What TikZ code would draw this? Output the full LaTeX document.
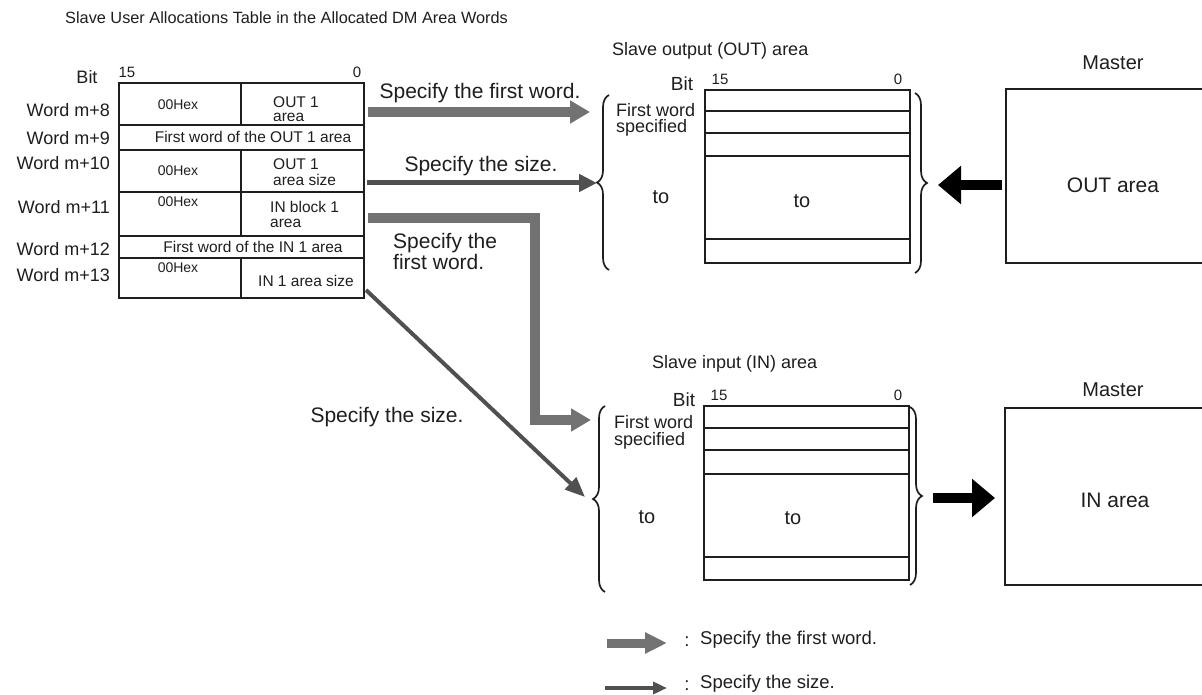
\documentclass[tikz,border=0pt]{standalone}
\usepackage{fontspec}
\setmainfont{Liberation Sans}
\usetikzlibrary{arrows.meta,decorations.pathreplacing,calc}
\newcommand\fsz[1]{\fontsize{#1}{#1}\selectfont}
\definecolor{ink}{HTML}{1E1E1E}
\definecolor{stip}{HTML}{727272}
\definecolor{thin}{HTML}{505050}
\begin{document}
\begin{tikzpicture}[x=1pt,y=-1pt,
  every node/.style={inner sep=0pt, text=ink},
  cell/.style={draw=ink, line width=2pt, anchor=north west, minimum width=245},
  area/.style={draw=ink, line width=2.2pt, anchor=north west, minimum width=205},
  tline/.style={draw=ink, line width=2pt},
  aline/.style={draw=ink, line width=2.2pt},
  lbl/.style={font=\fsz{18}},
  ctxt/.style={font=\fsz{15.5}},
  hex/.style={font=\fsz{14}},
  bitno/.style={font=\fsz{15}},
  big/.style={font=\fsz{21}},
  brc/.style={draw=ink, line width=1.7pt, decorate, decoration={brace, amplitude=12pt, aspect=0.5}},
  fwarrow/.style={draw=stip, line width=10pt, line join=miter, -{Triangle[length=20pt,width=22pt]}},
  szarrow/.style={draw=thin, line width=5pt, -{Triangle[length=18pt,width=17pt]}},
  blkarrow/.style={draw=black, line width=10pt, -{Triangle[length=23pt,width=37pt]}}
]
\useasboundingbox (0,0) rectangle (1202,695);

% title
\node[anchor=west, font=\fsz{16.3}] (title) at (65,18) {Slave User Allocations Table in the Allocated DM Area Words};

% ---------------- allocation table ----------------
\node[cell, minimum height=42] (r8)  at (118,82)  {};
\node[cell, minimum height=25] (r9)  at (118,124) {};
\node[cell, minimum height=42] (r10) at (118,149) {};
\node[cell, minimum height=44] (r11) at (118,191) {};
\node[cell, minimum height=22] (r12) at (118,235) {};
\node[cell, minimum height=40] (r13) at (118,257) {};
\draw[tline] (241,82) -- (241,124);
\draw[tline] (241,149) -- (241,235);
\draw[tline] (241,257) -- (241,297);

\node[lbl] (bitl) at (87,77) {Bit};
\node[bitno] (b15l) at (127,72) {15};
\node[bitno] (b0l) at (357,72) {0};

\node[lbl, anchor=east] (w8)  at (110,110) {Word m+8};
\node[lbl, anchor=east] (w9)  at (110,138) {Word m+9};
\node[lbl, anchor=east] (w10) at (110,163) {Word m+10};
\node[lbl, anchor=east] (w11) at (110,207) {Word m+11};
\node[lbl, anchor=east] (w12) at (110,249) {Word m+12};
\node[lbl, anchor=east] (w13) at (110,275) {Word m+13};

\node[hex] (h8)  at (178,105) {00Hex};
\node[hex] (h10) at (178,171) {00Hex};
\node[hex] (h11) at (178,202) {00Hex};
\node[hex] (h13) at (178,268) {00Hex};

\node[ctxt, anchor=west] (t8a)  at (273,102) {OUT 1};
\node[ctxt, anchor=west] (t8b)  at (273,117) {area};
\node[ctxt] (t9) at (253,137) {First word of the OUT 1 area};
\node[ctxt, anchor=west] (t10a) at (273,164) {OUT 1};
\node[ctxt, anchor=west] (t10b) at (273,180) {area size};
\node[ctxt, anchor=west] (t11a) at (270,207) {IN block 1};
\node[ctxt, anchor=west] (t11b) at (270,223) {area};
\node[ctxt] (t12) at (253,247) {First word of the IN 1 area};
\node[ctxt, anchor=west] (t13) at (258,281) {IN 1 area size};

% ---------------- OUT area ----------------
\node[anchor=west, font=\fsz{18}] (outttl) at (612,51) {Slave output (OUT) area};
\node[area, minimum height=173] (outtbl) at (704,89) {};
\draw[aline] (704,111) -- (909,111);
\draw[aline] (704,133) -- (909,133);
\draw[aline] (704,156) -- (909,156);
\draw[aline] (704,239) -- (909,239);
\node[font=\fsz{19}] (outbit) at (682,84) {Bit};
\node[bitno] (out15) at (720,79) {15};
\node[bitno] (out0) at (898,79) {0};
\node[lbl, anchor=west] (outfw) at (616,110) {First word};
\node[lbl, anchor=west] (outsp) at (616,128) {specified};
\node[font=\fsz{20}] (outto1) at (661,197) {to};
\node[font=\fsz{20}] (outto2) at (802,201) {to};
\draw[brc] (609,270) -- (609,95);
\coordinate (outL) at (597,183);
\draw[brc] (915,93) -- (915,273);
\coordinate (outR) at (938,185);

% master OUT
\node[anchor=north west, minimum width=200, minimum height=174] (mout) at (1006,89) {};
\draw[aline] (1210,89) -- (1006,89) -- (1006,263) -- (1210,263);
\node[font=\fsz{20}] (mastout) at (1113,63) {Master};
\node[big] (outarea) at (1113,185) {OUT area};
\coordinate (moutw) at (1002,185);
\draw[blkarrow] (moutw) -- (outR);

% ---------------- IN area ----------------
\node[anchor=west, font=\fsz{18}] (inttl) at (652,364) {Slave input (IN) area};
\node[area, minimum height=174] (intbl) at (703,405) {};
\draw[aline] (703,428) -- (908,428);
\draw[aline] (703,450) -- (908,450);
\draw[aline] (703,474) -- (908,474);
\draw[aline] (703,557) -- (908,557);
\node[font=\fsz{19}] (inbit) at (684,400) {Bit};
\node[bitno] (in15) at (719,395) {15};
\node[bitno] (in0) at (898,395) {0};
\node[lbl, anchor=west] (infw) at (614,422) {First word};
\node[lbl, anchor=west] (insp) at (614,441) {specified};
\node[font=\fsz{20}] (into1) at (647,517) {to};
\node[font=\fsz{20}] (into2) at (793,518) {to};
\draw[brc] (605,592) -- (605,406);
\coordinate (inL) at (590,498);
\draw[brc] (910,407) -- (910,585);
\coordinate (inR) at (933,498);

% master IN
\node[anchor=north west, minimum width=200, minimum height=177] (min) at (1005,408) {};
\draw[aline] (1210,408) -- (1005,408) -- (1005,585) -- (1210,585);
\node[font=\fsz{20}] (mastin) at (1113,390) {Master};
\node[big] (inarea) at (1115,500) {IN area};
\coordinate (minw) at (995,498);
\draw[blkarrow] (inR) -- (minw);

% ---------------- arrows from table ----------------
\coordinate (s1) at (368,112);
\coordinate (e1) at (590,112);
\draw[fwarrow] (s1) -- (e1);
\node[big] (l1) at (480,93) {Specify the first word.};

\coordinate (s2) at (367,183);
\draw[szarrow] (s2) -- (outL);
\node[big] (l2) at (481,166) {Specify the size.};

\coordinate (s3) at (368,218);
\coordinate (e3) at (591,420);
\draw[fwarrow] (s3) -- (535,218) -- (535,420) -- (e3);
\node[big, anchor=west] (l3a) at (393,243) {Specify the};
\node[big, anchor=west] (l3b) at (393,262) {first word.};

\coordinate (s4) at (366,290);
\coordinate (e4) at (585,497);
\draw[draw=thin, line width=4pt, -{Triangle[length=20pt,width=16pt]}] (s4) -- (e4);
\node[big] (l4) at (387,417) {Specify the size.};

% ---------------- legend ----------------
\coordinate (g1a) at (607,643);
\coordinate (g1b) at (667,643);
\draw[draw=stip, line width=9pt, -{Triangle[length=22pt,width=20pt]}] (g1a) -- (g1b);
\node[font=\fsz{18.5}] (c1) at (687,642) {:};
\node[font=\fsz{18.5}, anchor=west] (g1t) at (700,640) {Specify the first word.};
\coordinate (g2a) at (605,688);
\coordinate (g2b) at (667,688);
\draw[draw=thin, line width=4pt, -{Triangle[length=14pt,width=12pt]}] (g2a) -- (g2b);
\node[font=\fsz{18.5}] (c2) at (687,686) {:};
\node[font=\fsz{18.5}, anchor=west] (g2t) at (700,684) {Specify the size.};
\end{tikzpicture}
\end{document}
